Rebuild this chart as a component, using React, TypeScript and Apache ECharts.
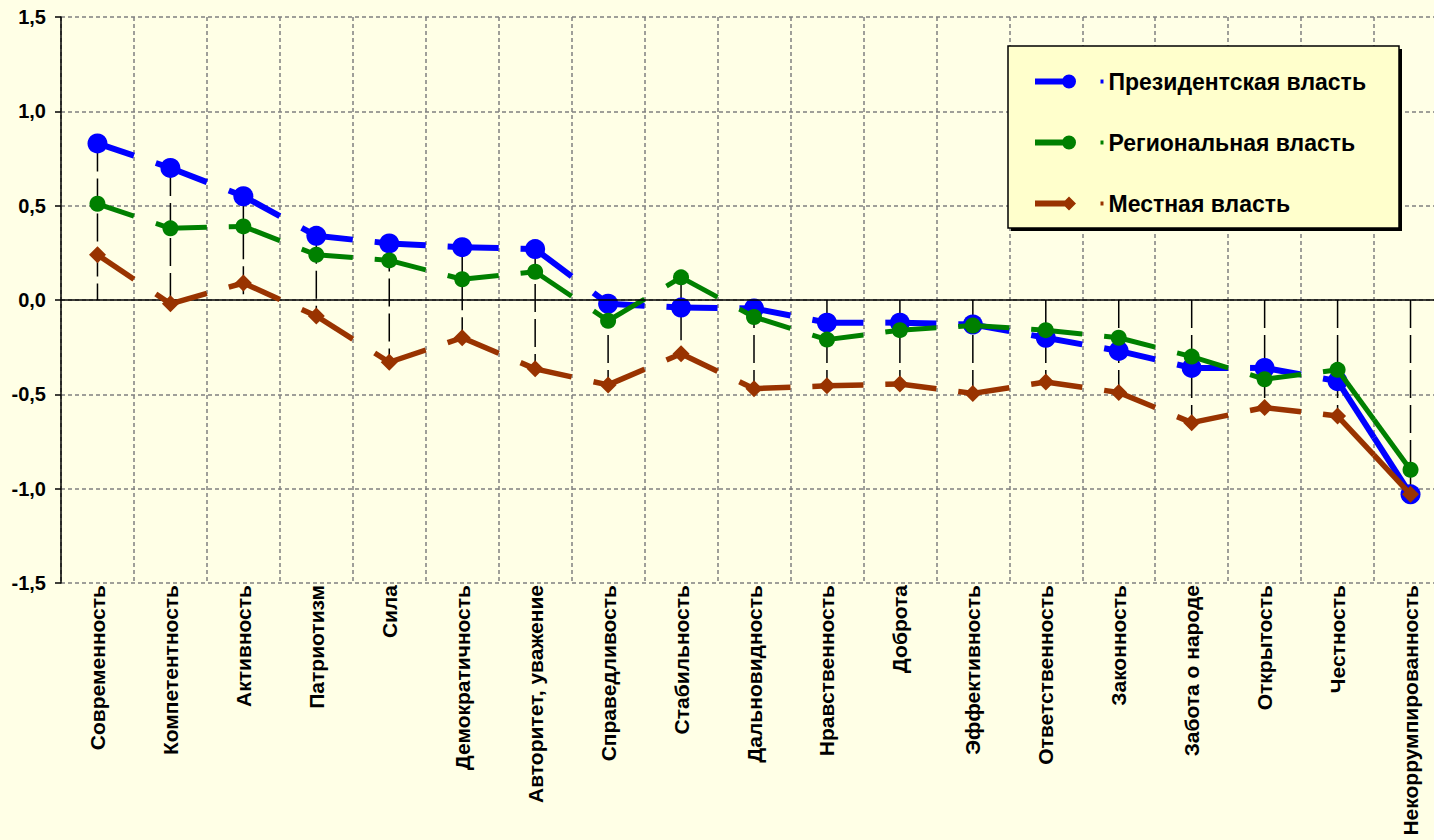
import React, { useEffect, useRef } from 'react';
import * as echarts from 'echarts';

const categories = [
  'Современность', 'Компетентность', 'Активность', 'Патриотизм', 'Сила',
  'Демократичность', 'Авторитет, уважение', 'Справедливость', 'Стабильность',
  'Дальновидность', 'Нравственность', 'Доброта', 'Эффективность',
  'Ответственность', 'Законность', 'Забота о народе', 'Открытость',
  'Честность', 'Некоррумпированность',
];

const presidential = [0.83, 0.70, 0.55, 0.34, 0.30, 0.28, 0.27, -0.02, -0.04, -0.045, -0.12, -0.12, -0.13, -0.20, -0.27, -0.36, -0.36, -0.43, -1.03];
const regional = [0.51, 0.38, 0.39, 0.24, 0.21, 0.11, 0.15, -0.11, 0.12, -0.09, -0.21, -0.16, -0.135, -0.16, -0.20, -0.30, -0.42, -0.37, -0.90];
const local = [0.24, -0.02, 0.09, -0.085, -0.33, -0.20, -0.365, -0.45, -0.285, -0.47, -0.455, -0.445, -0.495, -0.435, -0.49, -0.65, -0.57, -0.615, -1.03];

const seriesNames = ['Президентская власть', 'Региональная власть', 'Местная власть'];
const seriesColors = ['#0000FF', '#008000', '#993300'];

const FONT = 'Liberation Sans, Arial, sans-serif';

function makeRenderer(values: number[], color: string, lineWidth: number, symbol: 'circle' | 'diamond', size: number) {
  return (params: any, api: any) => {
    const i = params.dataIndex;
    const n = values.length;
    const p = api.coord([i, values[i]]);
    const children: any[] = [];
    if (i < n - 1) {
      const q = api.coord([i + 1, values[i + 1]]);
      children.push({
        type: 'line',
        shape: { x1: p[0], y1: p[1], x2: p[0] + (q[0] - p[0]) * 0.5, y2: p[1] + (q[1] - p[1]) * 0.5 },
        style: { stroke: color, lineWidth, lineCap: 'butt' },
      });
    }
    if (i > 0) {
      const q = api.coord([i - 1, values[i - 1]]);
      const f = i === n - 1 ? 0.5 : 0.2;
      children.push({
        type: 'line',
        shape: { x1: p[0], y1: p[1], x2: p[0] + (q[0] - p[0]) * f, y2: p[1] + (q[1] - p[1]) * f },
        style: { stroke: color, lineWidth, lineCap: 'butt' },
      });
    }
    if (symbol === 'circle') {
      children.push({ type: 'circle', shape: { cx: p[0], cy: p[1], r: size / 2 }, style: { fill: color } });
    } else {
      const h = size / 2;
      children.push({
        type: 'polygon',
        shape: { points: [[p[0], p[1] - h], [p[0] + h, p[1]], [p[0], p[1] + h], [p[0] - h, p[1]]] },
        style: { fill: color },
      });
    }
    return { type: 'group', children };
  };
}

const dropRenderer = (params: any, api: any) => {
  const i = params.dataIndex;
  const lo = Math.min(0, presidential[i], regional[i], local[i]);
  const hi = Math.max(0, presidential[i], regional[i], local[i]);
  const a = api.coord([i, hi]);
  const b = api.coord([i, lo]);
  return {
    type: 'line',
    shape: { x1: a[0], y1: a[1], x2: b[0], y2: b[1] },
    style: { stroke: '#000', lineWidth: 1.5, lineDash: [28, 7] },
  };
};

const circleIcon = 'path://M0,4 L30,4 L30,10 L0,10 Z M27,7 A7,7 0 1,1 41,7 A7,7 0 1,1 27,7 Z';
const diamondIcon = 'path://M0,4 L30,4 L30,10 L0,10 Z M27,7 L34,0 L41,7 L34,14 Z';

export default function App() {
  const ref = useRef<HTMLDivElement>(null);
  useEffect(() => {
    if (!ref.current) return;
    const chart = echarts.init(ref.current, undefined, { renderer: 'svg' });
    const option: any = {
      animation: false,
      backgroundColor: '#FFFFE6',
      grid: { left: 61, top: 17, width: 1386, height: 566, containLabel: false },
      xAxis: {
        type: 'category',
        data: categories,
        boundaryGap: true,
        axisLine: { show: false, onZero: false },
        axisTick: { show: false },
        splitLine: { show: true, interval: 0, lineStyle: { color: '#808080', type: [4, 3], width: 1.5 } },
        axisLabel: {
          rotate: 90, interval: 0, fontSize: 21, fontWeight: 'bold', fontFamily: FONT, color: '#000', margin: 2,
        },
      },
      yAxis: {
        type: 'value',
        min: -1.5,
        max: 1.5,
        interval: 0.5,
        axisLine: { show: true, lineStyle: { color: '#000', width: 1.5 } },
        axisTick: { show: true, length: 6, lineStyle: { color: '#000', width: 1.5 } },
        axisLabel: {
          formatter: (v: number) => v.toFixed(1).replace('.', ','),
          fontSize: 20, fontWeight: 'bold', fontFamily: FONT, color: '#000', margin: 15,
        },
        splitLine: { show: true, lineStyle: { color: '#808080', type: [4, 3], width: 1.5 } },
      },
      legend: {
        orient: 'vertical',
        left: 1035,
        top: 70,
        padding: 0,
        itemGap: 38,
        itemWidth: 42,
        itemHeight: 14,
        z: 20,
        selectedMode: false,
        data: [
          { name: seriesNames[0], icon: circleIcon },
          { name: seriesNames[1], icon: circleIcon },
          { name: seriesNames[2], icon: diamondIcon },
        ],
        formatter: (name: string) => {
          const k = seriesNames.indexOf(name);
          return `{sp| }{q${k}| }{t|${name}}`;
        },
        textStyle: {
          fontSize: 23, fontWeight: 'bold', fontFamily: FONT, color: '#000',
          rich: {
            sp: { width: 19 },
            q0: { width: 3, height: 4, backgroundColor: seriesColors[0] },
            q1: { width: 3, height: 4, backgroundColor: seriesColors[1] },
            q2: { width: 3, height: 4, backgroundColor: seriesColors[2] },
            t: { fontSize: 23, fontWeight: 'bold', fontFamily: FONT, color: '#000', lineHeight: 28, padding: [0, 0, 0, 5] },
          },
        },
      },
      graphic: [
        { type: 'rect', z: 10, shape: { x: 1011, y: 49, width: 391, height: 182 }, style: { fill: '#000' } },
        { type: 'rect', z: 11, shape: { x: 1008, y: 46, width: 391, height: 182 }, style: { fill: '#FFFFCC', stroke: '#000', lineWidth: 1.5 } },
      ],
      series: [
        {
          name: 'drop',
          type: 'custom',
          z: 1,
          renderItem: dropRenderer,
          data: categories.map((_, i) => [i, 0]),
          encode: { x: 0, y: 1 },
          silent: true,
          markLine: {
            silent: true,
            symbol: ['none', 'none'],
            label: { show: false },
            lineStyle: { color: '#000', width: 1.5, type: 'solid' },
            data: [{ yAxis: 0 }],
          },
        },
        {
          name: seriesNames[0],
          type: 'custom',
          z: 3,
          itemStyle: { color: seriesColors[0] },
          renderItem: makeRenderer(presidential, seriesColors[0], 6, 'circle', 20),
          data: presidential.map((v, i) => [i, v]),
          encode: { x: 0, y: 1 },
        },
        {
          name: seriesNames[1],
          type: 'custom',
          z: 4,
          itemStyle: { color: seriesColors[1] },
          renderItem: makeRenderer(regional, seriesColors[1], 5, 'circle', 16),
          data: regional.map((v, i) => [i, v]),
          encode: { x: 0, y: 1 },
        },
        {
          name: seriesNames[2],
          type: 'custom',
          z: 5,
          itemStyle: { color: seriesColors[2] },
          renderItem: makeRenderer(local, seriesColors[2], 5.5, 'diamond', 17),
          data: local.map((v, i) => [i, v]),
          encode: { x: 0, y: 1 },
        },
      ],
    };
    chart.setOption(option);
    return () => chart.dispose();
  }, []);
  return (
    <div style={{ position: 'fixed', left: 0, top: 0, width: 1434, height: 840, overflow: 'hidden' }}>
      <div ref={ref} style={{ width: 1460, height: 840 }} />
    </div>
  );
}
